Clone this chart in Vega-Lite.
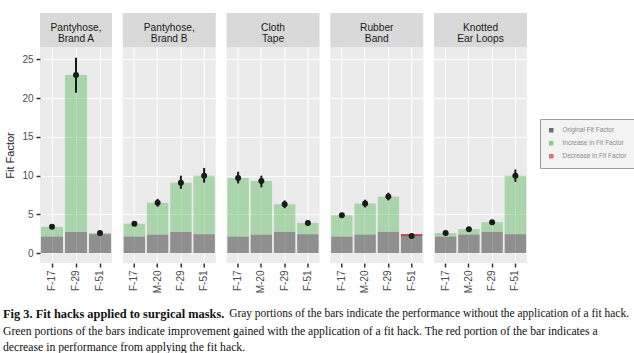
{
  "$schema": "https://vega.github.io/schema/vega-lite/v6.json",
  "background": "white",
  "padding": {"left": 3, "top": 13, "right": 0, "bottom": 0},
  "datasets": {
    "bars": [
      {"panel": "A", "subject": "F-17", "orig": 2.15, "fit": 3.4, "lo": 3.25, "hi": 3.55, "change": "Increase in Fit Factor"},
      {"panel": "A", "subject": "F-29", "orig": 2.75, "fit": 23.0, "lo": 20.7, "hi": 25.2, "change": "Increase in Fit Factor"},
      {"panel": "A", "subject": "F-51", "orig": 2.45, "fit": 2.6, "lo": 2.5, "hi": 2.7, "change": "Increase in Fit Factor"},
      {"panel": "B", "subject": "F-17", "orig": 2.15, "fit": 3.8, "lo": 3.65, "hi": 3.95, "change": "Increase in Fit Factor"},
      {"panel": "B", "subject": "M-20", "orig": 2.4, "fit": 6.5, "lo": 6.0, "hi": 7.0, "change": "Increase in Fit Factor"},
      {"panel": "B", "subject": "F-29", "orig": 2.75, "fit": 9.1, "lo": 8.3, "hi": 10.0, "change": "Increase in Fit Factor"},
      {"panel": "B", "subject": "F-51", "orig": 2.45, "fit": 10.0, "lo": 9.1, "hi": 11.0, "change": "Increase in Fit Factor"},
      {"panel": "C", "subject": "F-17", "orig": 2.15, "fit": 9.7, "lo": 9.0, "hi": 10.5, "change": "Increase in Fit Factor"},
      {"panel": "C", "subject": "M-20", "orig": 2.4, "fit": 9.3, "lo": 8.5, "hi": 10.0, "change": "Increase in Fit Factor"},
      {"panel": "C", "subject": "F-29", "orig": 2.75, "fit": 6.3, "lo": 5.8, "hi": 6.8, "change": "Increase in Fit Factor"},
      {"panel": "C", "subject": "F-51", "orig": 2.45, "fit": 3.9, "lo": 3.75, "hi": 4.05, "change": "Increase in Fit Factor"},
      {"panel": "D", "subject": "F-17", "orig": 2.15, "fit": 4.9, "lo": 4.6, "hi": 5.2, "change": "Increase in Fit Factor"},
      {"panel": "D", "subject": "M-20", "orig": 2.4, "fit": 6.4, "lo": 5.9, "hi": 6.9, "change": "Increase in Fit Factor"},
      {"panel": "D", "subject": "F-29", "orig": 2.75, "fit": 7.3, "lo": 6.8, "hi": 7.8, "change": "Increase in Fit Factor"},
      {"panel": "D", "subject": "F-51", "orig": 2.45, "fit": 2.2, "lo": 2.1, "hi": 2.3, "change": "Decrease in Fit Factor"},
      {"panel": "E", "subject": "F-17", "orig": 2.15, "fit": 2.6, "lo": 2.5, "hi": 2.7, "change": "Increase in Fit Factor"},
      {"panel": "E", "subject": "M-20", "orig": 2.4, "fit": 3.1, "lo": 3.0, "hi": 3.2, "change": "Increase in Fit Factor"},
      {"panel": "E", "subject": "F-29", "orig": 2.75, "fit": 4.0, "lo": 3.85, "hi": 4.15, "change": "Increase in Fit Factor"},
      {"panel": "E", "subject": "F-51", "orig": 2.45, "fit": 10.0, "lo": 9.2, "hi": 10.8, "change": "Increase in Fit Factor"}
    ],
    "caption": [
      {"line": 1, "part": "bold", "text": "Fig 3. Fit hacks applied to surgical masks."},
      {"line": 1, "part": "right", "text": "Gray portions of the bars indicate the performance without the application of a fit hack."},
      {"line": 2, "part": "left", "text": "Green portions of the bars indicate improvement gained with the application of a fit hack. The red portion of the bar indicates a"},
      {"line": 3, "part": "left", "text": "decrease in performance from applying the fit hack."}
    ]
  },
  "vconcat": [
    {
      "spacing": 10.75,
      "hconcat": [
        {
          "spacing": 0,
          "vconcat": [
            {"width": 72, "height": 34, "view": {"fill": "#d9d9d9", "stroke": null},
             "data": {"values": [{"label": "Pantyhose,\nBrand A"}]},
             "mark": {"type": "text", "lineBreak": "\n", "fontSize": 10.2, "lineHeight": 11, "baseline": "middle", "dy": -2.5, "color": "#1a1a1a", "font": "Liberation Sans"},
             "encoding": {"text": {"field": "label"}}},
            {"width": 72, "height": 216, "view": {"fill": "#ebebeb", "stroke": null},
             "data": {"name": "bars"},
             "transform": [{"filter": "datum.panel == 'A'"}],
             "encoding": {"x": {"field": "subject", "type": "nominal", "sort": ["F-17", "M-20", "F-29", "F-51"], "title": null, "scale": {"paddingInner": 0.08, "paddingOuter": 0.04}, "axis": {"labelAngle": 270, "grid": true, "bandPosition": 0.5, "tickSize": 4, "tickWidth": 1.5, "labelPadding": 3, "labelFontSize": 10}}},
             "layer": [
               {"mark": {"type": "bar", "opacity": 0.5},
                "encoding": {"y": {"field": "orig", "type": "quantitative", "scale": {"domain": [-1.27, 26.6], "nice": false},
                  "axis": {"title": "Fit Factor", "titleFontSize": 11, "titleFontWeight": "normal", "titleColor": "#1a1a1a", "titlePadding": 6, "labelFontSize": 10, "labelPadding": 3, "tickSize": 4, "tickWidth": 1.5,
                    "values": [0, 2.5, 5, 7.5, 10, 12.5, 15, 17.5, 20, 22.5, 25],
                    "labelExpr": "datum.value % 5 === 0 ? datum.label : ''",
                    "tickOpacity": {"condition": {"test": "datum.value % 5 !== 0", "value": 0}, "value": 1},
                    "gridWidth": {"condition": {"test": "datum.value % 5 !== 0", "value": 0.6}, "value": 1.2}}},
                  "color": {"datum": "Original Fit Factor", "type": "nominal", "title": null,
                    "scale": {"domain": ["Original Fit Factor", "Increase in Fit Factor", "Decrease in Fit Factor"], "range": ["#333333", "#5cb85c", "#c43c3c"]}}}},
               {"mark": {"type": "bar"},
                "encoding": {"y": {"field": "orig", "type": "quantitative"}, "y2": {"field": "fit"},
                  "color": {"field": "change", "type": "nominal", "title": null},
                  "opacity": {"condition": {"test": "datum.change == 'Decrease in Fit Factor'", "value": 0.85}, "value": 0.45}}},
               {"mark": {"type": "rule", "color": "#1a1a1a", "strokeWidth": 2}, "encoding": {"y": {"field": "lo", "type": "quantitative"}, "y2": {"field": "hi"}}},
               {"mark": {"type": "circle", "color": "#1a1a1a", "opacity": 1, "size": 36}, "encoding": {"y": {"field": "fit", "type": "quantitative"}}}
             ]}
          ]
        },
        {
          "spacing": 0,
          "vconcat": [
            {"width": 93, "height": 34, "view": {"fill": "#d9d9d9", "stroke": null},
             "data": {"values": [{"label": "Pantyhose,\nBrand B"}]},
             "mark": {"type": "text", "lineBreak": "\n", "fontSize": 10.2, "lineHeight": 11, "baseline": "middle", "dy": -2.5, "color": "#1a1a1a", "font": "Liberation Sans"},
             "encoding": {"text": {"field": "label"}}},
            {"width": 93, "height": 216, "view": {"fill": "#ebebeb", "stroke": null},
             "data": {"name": "bars"},
             "transform": [{"filter": "datum.panel == 'B'"}],
             "encoding": {"x": {"field": "subject", "type": "nominal", "sort": ["F-17", "M-20", "F-29", "F-51"], "title": null, "scale": {"paddingInner": 0.08, "paddingOuter": 0.04}, "axis": {"labelAngle": 270, "grid": true, "bandPosition": 0.5, "tickSize": 4, "tickWidth": 1.5, "labelPadding": 3, "labelFontSize": 10}}},
             "layer": [
               {"mark": {"type": "bar", "opacity": 0.5},
                "encoding": {"y": {"field": "orig", "type": "quantitative", "scale": {"domain": [-1.27, 26.6], "nice": false},
                  "axis": {"title": null, "labels": false, "ticks": false,
                    "values": [0, 2.5, 5, 7.5, 10, 12.5, 15, 17.5, 20, 22.5, 25],
                    "gridWidth": {"condition": {"test": "datum.value % 5 !== 0", "value": 0.6}, "value": 1.2}}},
                  "color": {"datum": "Original Fit Factor", "type": "nominal", "title": null}}},
               {"mark": {"type": "bar"},
                "encoding": {"y": {"field": "orig", "type": "quantitative"}, "y2": {"field": "fit"},
                  "color": {"field": "change", "type": "nominal", "title": null},
                  "opacity": {"condition": {"test": "datum.change == 'Decrease in Fit Factor'", "value": 0.85}, "value": 0.45}}},
               {"mark": {"type": "rule", "color": "#1a1a1a", "strokeWidth": 2}, "encoding": {"y": {"field": "lo", "type": "quantitative"}, "y2": {"field": "hi"}}},
               {"mark": {"type": "circle", "color": "#1a1a1a", "opacity": 1, "size": 36}, "encoding": {"y": {"field": "fit", "type": "quantitative"}}}
             ]}
          ]
        },
        {
          "spacing": 0,
          "vconcat": [
            {"width": 93, "height": 34, "view": {"fill": "#d9d9d9", "stroke": null},
             "data": {"values": [{"label": "Cloth\nTape"}]},
             "mark": {"type": "text", "lineBreak": "\n", "fontSize": 10.2, "lineHeight": 11, "baseline": "middle", "dy": -2.5, "color": "#1a1a1a", "font": "Liberation Sans"},
             "encoding": {"text": {"field": "label"}}},
            {"width": 93, "height": 216, "view": {"fill": "#ebebeb", "stroke": null},
             "data": {"name": "bars"},
             "transform": [{"filter": "datum.panel == 'C'"}],
             "encoding": {"x": {"field": "subject", "type": "nominal", "sort": ["F-17", "M-20", "F-29", "F-51"], "title": null, "scale": {"paddingInner": 0.08, "paddingOuter": 0.04}, "axis": {"labelAngle": 270, "grid": true, "bandPosition": 0.5, "tickSize": 4, "tickWidth": 1.5, "labelPadding": 3, "labelFontSize": 10}}},
             "layer": [
               {"mark": {"type": "bar", "opacity": 0.5},
                "encoding": {"y": {"field": "orig", "type": "quantitative", "scale": {"domain": [-1.27, 26.6], "nice": false},
                  "axis": {"title": null, "labels": false, "ticks": false,
                    "values": [0, 2.5, 5, 7.5, 10, 12.5, 15, 17.5, 20, 22.5, 25],
                    "gridWidth": {"condition": {"test": "datum.value % 5 !== 0", "value": 0.6}, "value": 1.2}}},
                  "color": {"datum": "Original Fit Factor", "type": "nominal", "title": null}}},
               {"mark": {"type": "bar"},
                "encoding": {"y": {"field": "orig", "type": "quantitative"}, "y2": {"field": "fit"},
                  "color": {"field": "change", "type": "nominal", "title": null},
                  "opacity": {"condition": {"test": "datum.change == 'Decrease in Fit Factor'", "value": 0.85}, "value": 0.45}}},
               {"mark": {"type": "rule", "color": "#1a1a1a", "strokeWidth": 2}, "encoding": {"y": {"field": "lo", "type": "quantitative"}, "y2": {"field": "hi"}}},
               {"mark": {"type": "circle", "color": "#1a1a1a", "opacity": 1, "size": 36}, "encoding": {"y": {"field": "fit", "type": "quantitative"}}}
             ]}
          ]
        },
        {
          "spacing": 0,
          "vconcat": [
            {"width": 93, "height": 34, "view": {"fill": "#d9d9d9", "stroke": null},
             "data": {"values": [{"label": "Rubber\nBand"}]},
             "mark": {"type": "text", "lineBreak": "\n", "fontSize": 10.2, "lineHeight": 11, "baseline": "middle", "dy": -2.5, "color": "#1a1a1a", "font": "Liberation Sans"},
             "encoding": {"text": {"field": "label"}}},
            {"width": 93, "height": 216, "view": {"fill": "#ebebeb", "stroke": null},
             "data": {"name": "bars"},
             "transform": [{"filter": "datum.panel == 'D'"}],
             "encoding": {"x": {"field": "subject", "type": "nominal", "sort": ["F-17", "M-20", "F-29", "F-51"], "title": null, "scale": {"paddingInner": 0.08, "paddingOuter": 0.04}, "axis": {"labelAngle": 270, "grid": true, "bandPosition": 0.5, "tickSize": 4, "tickWidth": 1.5, "labelPadding": 3, "labelFontSize": 10}}},
             "layer": [
               {"mark": {"type": "bar", "opacity": 0.5},
                "encoding": {"y": {"field": "orig", "type": "quantitative", "scale": {"domain": [-1.27, 26.6], "nice": false},
                  "axis": {"title": null, "labels": false, "ticks": false,
                    "values": [0, 2.5, 5, 7.5, 10, 12.5, 15, 17.5, 20, 22.5, 25],
                    "gridWidth": {"condition": {"test": "datum.value % 5 !== 0", "value": 0.6}, "value": 1.2}}},
                  "color": {"datum": "Original Fit Factor", "type": "nominal", "title": null}}},
               {"mark": {"type": "bar"},
                "encoding": {"y": {"field": "orig", "type": "quantitative"}, "y2": {"field": "fit"},
                  "color": {"field": "change", "type": "nominal", "title": null},
                  "opacity": {"condition": {"test": "datum.change == 'Decrease in Fit Factor'", "value": 0.85}, "value": 0.45}}},
               {"mark": {"type": "rule", "color": "#1a1a1a", "strokeWidth": 2}, "encoding": {"y": {"field": "lo", "type": "quantitative"}, "y2": {"field": "hi"}}},
               {"mark": {"type": "circle", "color": "#1a1a1a", "opacity": 1, "size": 36}, "encoding": {"y": {"field": "fit", "type": "quantitative"}}}
             ]}
          ]
        },
        {
          "spacing": 0,
          "vconcat": [
            {"width": 93, "height": 34, "view": {"fill": "#d9d9d9", "stroke": null},
             "data": {"values": [{"label": "Knotted\nEar Loops"}]},
             "mark": {"type": "text", "lineBreak": "\n", "fontSize": 10.2, "lineHeight": 11, "baseline": "middle", "dy": -2.5, "color": "#1a1a1a", "font": "Liberation Sans"},
             "encoding": {"text": {"field": "label"}}},
            {"width": 93, "height": 216, "view": {"fill": "#ebebeb", "stroke": null},
             "data": {"name": "bars"},
             "transform": [{"filter": "datum.panel == 'E'"}],
             "encoding": {"x": {"field": "subject", "type": "nominal", "sort": ["F-17", "M-20", "F-29", "F-51"], "title": null, "scale": {"paddingInner": 0.08, "paddingOuter": 0.04}, "axis": {"labelAngle": 270, "grid": true, "bandPosition": 0.5, "tickSize": 4, "tickWidth": 1.5, "labelPadding": 3, "labelFontSize": 10}}},
             "layer": [
               {"mark": {"type": "bar", "opacity": 0.5},
                "encoding": {"y": {"field": "orig", "type": "quantitative", "scale": {"domain": [-1.27, 26.6], "nice": false},
                  "axis": {"title": null, "labels": false, "ticks": false,
                    "values": [0, 2.5, 5, 7.5, 10, 12.5, 15, 17.5, 20, 22.5, 25],
                    "gridWidth": {"condition": {"test": "datum.value % 5 !== 0", "value": 0.6}, "value": 1.2}}},
                  "color": {"datum": "Original Fit Factor", "type": "nominal", "title": null}}},
               {"mark": {"type": "bar"},
                "encoding": {"y": {"field": "orig", "type": "quantitative"}, "y2": {"field": "fit"},
                  "color": {"field": "change", "type": "nominal", "title": null},
                  "opacity": {"condition": {"test": "datum.change == 'Decrease in Fit Factor'", "value": 0.85}, "value": 0.45}}},
               {"mark": {"type": "rule", "color": "#1a1a1a", "strokeWidth": 2}, "encoding": {"y": {"field": "lo", "type": "quantitative"}, "y2": {"field": "hi"}}},
               {"mark": {"type": "circle", "color": "#1a1a1a", "opacity": 1, "size": 36}, "encoding": {"y": {"field": "fit", "type": "quantitative"}}}
             ]}
          ]
        }
      ]
    },
    {
      "width": 588, "height": 43, "view": {"stroke": null},
      "data": {"name": "caption"},
      "encoding": {
        "x": {"datum": 0, "type": "quantitative", "scale": {"domain": [0, 1], "range": [-37, 589]}, "axis": null},
        "y": {"field": "line", "type": "ordinal", "axis": null, "scale": {"type": "point", "padding": 0.3}},
        "text": {"field": "text"}
      },
      "layer": [
        {"transform": [{"filter": "datum.part == 'bold'"}], "mark": {"type": "text", "align": "left", "font": "Liberation Serif", "fontSize": 12.4, "fontWeight": "bold", "color": "#111111"}},
        {"transform": [{"filter": "datum.part == 'right'"}], "mark": {"type": "text", "align": "right", "font": "Liberation Serif", "fontSize": 11.45, "color": "#111111"}, "encoding": {"x": {"datum": 1, "type": "quantitative"}}},
        {"transform": [{"filter": "datum.part == 'left'"}], "mark": {"type": "text", "align": "left", "font": "Liberation Serif", "fontSize": 11.7, "color": "#111111"}}
      ]
    }
  ],
  "spacing": 14,
  "config": {
    "view": {"stroke": null},
    "axis": {"gridColor": "#ffffff", "domain": false, "labelFont": "Liberation Sans", "titleFont": "Liberation Sans", "labelColor": "#4d4d4d", "tickColor": "#333333"},
    "legend": {"orient": "none", "legendX": 500, "legendY": 106, "fillColor": "#f3f3f3", "strokeColor": "#9a9a9a", "padding": 8, "symbolType": "square", "symbolSize": 20, "symbolOpacity": 0.7, "symbolStrokeWidth": 0, "labelFontSize": 6.5, "labelColor": "#8a8a8a", "labelFont": "Liberation Sans", "rowPadding": 6, "labelOffset": 8}
  }
}
